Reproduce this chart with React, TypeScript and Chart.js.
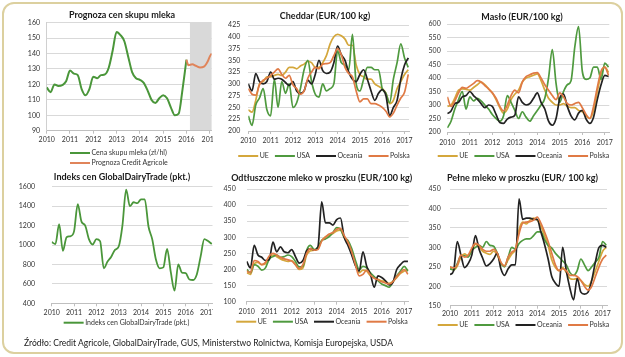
import React, { useEffect, useRef } from "react";
import { Chart, registerables } from "chart.js";

Chart.register(...registerables);
Chart.defaults.font.family = "Lato, 'Open Sans', sans-serif";

// ---------- DATA ----------
const dates = [
  "2010-01", "2010-03", "2010-05", "2010-07", "2010-09", "2010-11",
  "2011-01", "2011-03", "2011-05", "2011-07", "2011-09", "2011-11",
  "2012-01", "2012-03", "2012-05", "2012-07", "2012-09", "2012-11",
  "2013-01", "2013-03", "2013-05", "2013-07", "2013-09", "2013-11",
  "2014-01", "2014-03", "2014-05", "2014-07", "2014-09", "2014-11",
  "2015-01", "2015-03", "2015-05", "2015-07", "2015-09", "2015-11",
  "2016-01", "2016-03", "2016-05", "2016-07", "2016-09", "2016-11",
  "2017-01", "2017-03",
];
const yearTicks = [2010, 2011, 2012, 2013, 2014, 2015, 2016, 2017];

// Panel 1: milk purchase price (zł/hl) and forecast
const milkPrice = [
  118, 115, 120, 119, 119.5, 122,
  129, 127, 126, 117, 113, 117,
  125, 124, 126, 126.5, 131, 142,
  154, 152, 148, 138, 128, 124,
  123, 121, 116, 110, 108, 111,
  113, 111, 105, 100, 101, 117,
  136,
];
const forecastDates = ["2016-01", "2016-02", "2016-04", "2016-06", "2016-08", "2016-10", "2016-12", "2017-01", "2017-02"];
const forecastPrice = [136, 132.5, 133, 132, 131, 131.5, 135, 138, 140];
const forecastBand = [2016.15, 2017.1];

// Panel 2: Cheddar (EUR/100 kg)
const cheddarUE = [
  245, 240, 265, 300, 305, 315, 315, 318, 320, 318, 325, 335,
  335, 332, 338, 342, 348, 345, 335, 335, 345, 360, 385, 400,
  405, 402, 395, 382, 382, 340, 320, 315, 310, 310, 300, 295,
  290, 280, 258, 265, 290, 305, 320, 330,
];
const cheddarUSA = [
  232, 212, 255, 270, 290, 245, 232, 310, 250, 305, 280, 300,
  250, 260, 290, 330, 350, 305, 278, 272, 300, 285, 290, 300,
  370, 345, 340, 330, 405, 300, 285, 310, 335, 335, 330, 330,
  290, 280, 260, 310, 345, 385, 355, 335,
];
const cheddarOceania = [
  300, 285, 322, 305, 300, 305, 325, 310, 312, 310, 303, 297,
  305, 285, 280, 285, 308, 300, 320, 350, 328, 322, 325, 345,
  380, 362, 350, 325, 310, 305, 320, 330, 310, 285, 265, 280,
  288, 275, 232, 250, 265, 310, 340, 355,
];
const cheddarPolska = [
  290, 278, 276, 298, 308, 312, 318, 325, 332, 320, 312, 318,
  298, 290, 278, 285, 312, 325, 335, 332, 342, 343, 345, 360,
  375, 362, 335, 322, 315, 285, 262, 268, 268, 258, 258, 255,
  250, 242, 230, 238, 255, 270, 282, 320,
];

// Panel 3: Butter (EUR/100 kg)
const butterUE = [
  295, 300, 325, 355, 360, 358, 355, 365, 375, 385, 375, 360,
  345, 320, 290, 270, 285, 320, 340, 355, 385, 400, 405, 410,
  415, 390, 355, 325, 310, 300, 300, 305, 295, 290, 290, 280,
  275, 260, 250, 280, 350, 410, 440, 420,
];
const butterUSA = [
  215, 240, 285, 320, 350, 285, 330, 315, 325, 315, 300, 285,
  265, 250, 240, 260, 335, 310, 280, 250, 275, 255, 240, 260,
  280, 300, 325, 400, 505, 380, 310, 350, 375, 390, 515, 590,
  425, 395, 400, 440, 440, 395, 455, 440,
];
const butterOceania = [
  268, 278, 305, 310, 330, 335, 350, 335, 322, 305, 290, 300,
  295, 265, 235, 232, 248, 255, 262, 330, 310, 300, 305, 325,
  345, 310, 285, 240, 225, 250, 325, 340, 295, 260, 245, 270,
  280, 248, 232, 255, 320, 375, 410, 405,
];
const butterPolska = [
  330, 295, 315, 345, 365, 362, 370, 380, 390, 385, 372, 360,
  345, 325, 295, 278, 300, 335, 355, 345, 385, 405, 412, 418,
  420, 400, 375, 355, 335, 320, 345, 330, 305, 300, 305, 310,
  290, 265, 250, 295, 365, 425, 440, 410,
];

// Panel 4: GlobalDairyTrade price index (pkt.)
const gdtIndex = [
  1030, 1010, 1215, 940, 1080, 1090, 1140, 1420, 1240, 1200, 1060, 1005,
  1060, 1040, 760, 830, 880, 950, 985, 1200, 1570, 1400, 1440, 1430,
  1470, 1470, 1190, 1060, 850, 760, 770, 960, 720, 530, 800, 715,
  710, 645, 640, 700, 880, 1060, 1040, 1010,
];

// Panel 5: Skimmed milk powder (EUR/100 kg)
const smpUE = [
  190, 185, 218, 222, 215, 218, 235, 245, 240, 233, 228, 225,
  228, 215, 200, 205, 245, 258, 260, 265, 290, 302, 306, 312,
  320, 322, 300, 280, 250, 215, 190, 198, 195, 180, 175, 170,
  165, 163, 157, 163, 175, 188, 195, 200,
];
const smpUSA = [
  200, 190, 215, 210, 198, 205, 232, 240, 245, 238, 240, 245,
  240, 225, 208, 210, 260, 275, 262, 270, 290, 295, 302, 315,
  330, 325, 300, 290, 265, 228, 200, 210, 205, 190, 178, 165,
  155, 150, 145, 162, 180, 195, 210, 195,
];
const smpOceania = [
  225, 205, 275, 245, 238, 228, 230, 285, 255, 270, 255, 252,
  262, 240, 220, 228, 258, 265, 260, 270, 410, 345, 345, 338,
  355, 360, 300, 275, 245, 212, 195, 255, 210, 185, 145, 180,
  175, 165, 152, 160, 200, 215, 225, 225,
];
const smpPolska = [
  195, 190, 228, 225, 215, 222, 242, 250, 245, 238, 233, 230,
  226, 215, 203, 215, 250, 265, 260, 262, 288, 300, 310, 315,
  325, 328, 305, 285, 255, 215, 180, 185, 198, 183, 173, 168,
  162, 158, 155, 162, 178, 190, 200, 185,
];

// Panel 6: Whole milk powder (EUR/100 kg)
const wmpUE = [
  250, 242, 252, 275, 283, 278, 290, 308, 300, 290, 285, 282,
  290, 280, 258, 253, 268, 283, 295, 345, 365, 360, 370, 375,
  370, 355, 330, 305, 268, 248, 240, 248, 235, 220, 218, 220,
  215, 205, 200, 215, 240, 265, 290, 300,
];
const wmpUSA = [
  245, 242, 258, 278, 278, 275, 292, 300, 305, 300, 315, 305,
  303, 285, 260, 250, 275, 300, 295, 310, 318, 322, 322, 330,
  340, 340, 320, 305, 298, 285, 275, 265, 255, 235, 228, 240,
  270, 255, 240, 250, 262, 275, 315, 305,
];
const wmpOceania = [
  230, 240, 315, 280, 248, 258, 280, 330, 295, 272, 252, 258,
  270, 285, 245, 228, 245, 255, 255, 425, 372, 375, 375, 372,
  372, 340, 308, 270, 225, 208, 200, 300, 240, 195, 165, 220,
  185, 180, 185, 215, 262, 300, 305, 300,
];
const wmpPolska = [
  250, 247, 255, 280, 275, 280, 298, 310, 305, 295, 290, 290,
  295, 285, 262, 252, 275, 288, 295, 335, 362, 365, 366, 370,
  378, 362, 340, 315, 285, 255, 240, 245, 240, 228, 228, 225,
  215, 200, 190, 200, 225, 250, 270, 280,
];

const sourceText = "Źródło: Credit Agricole, GlobalDairyTrade, GUS, Ministerstwo Rolnictwa, Komisja Europejska, USDA";

// ---------- STYLE ----------
const C_UE = "#d4a73c";
const C_USA = "#4f9a3f";
const C_OCE = "#222222";
const C_PL = "#e07a45";
const C_GREEN = "#4a963a";
const C_ORANGE = "#e0845a";

const toYear = (d: string) => {
  const [y, m] = d.split("-").map(Number);
  return y + (m - 1) / 12;
};
const pts = (ds: string[], vs: number[]) => vs.map((v, i) => ({ x: toYear(ds[i]), y: v }));

type SeriesSpec = { label: string; color: string; data: { x: number; y: number }[]; width: number; order: number };
type PanelSpec = {
  rect: [number, number, number, number];
  area: [number, number, number, number]; // L, R, T, B (canvas-local)
  yMin: number; yMax: number; yStep: number; xMax: number;
  yPad: number; xPad: number; yBorder: boolean;
  title: string; titlePos: [number, number];
  legendMode: "row" | "column"; legendPos: [number, number];
  band?: number[];
  series: SeriesSpec[];
};

const four = (ue: number[], usa: number[], oce: number[], pl: number[]): SeriesSpec[] => [
  { label: "UE", color: C_UE, data: pts(dates, ue), width: 1.7, order: 3 },
  { label: "USA", color: C_USA, data: pts(dates, usa), width: 1.7, order: 2 },
  { label: "Oceania", color: C_OCE, data: pts(dates, oce), width: 1.7, order: 1 },
  { label: "Polska", color: C_PL, data: pts(dates, pl), width: 1.7, order: 0 },
];

const panels: PanelSpec[] = [
  {
    rect: [5, 5, 208, 165], area: [41.7, 206.6, 17.7, 125.7],
    yMin: 90, yMax: 160, yStep: 10, xMax: 2017.08, yPad: 6.7, xPad: 1.8, yBorder: true,
    title: "Prognoza cen skupu mleka", titlePos: [117, 9.7],
    legendMode: "column", legendPos: [65, 148], band: forecastBand,
    series: [
      { label: "Cena skupu mleka (zł/hl)", color: C_GREEN, data: pts(dates, milkPrice), width: 2, order: 1 },
      { label: "Prognoza Credit Agricole", color: C_ORANGE, data: pts(forecastDates, forecastPrice), width: 2, order: 0 },
    ],
  },
  {
    rect: [213, 5, 202, 165], area: [35.3, 196, 20, 126],
    yMin: 200, yMax: 425, yStep: 25, xMax: 2017.2, yPad: 8, xPad: 2.5, yBorder: false,
    title: "Cheddar (EUR/100 kg)", titlePos: [112, 11],
    legendMode: "row", legendPos: [111, 151],
    series: four(cheddarUE, cheddarUSA, cheddarOceania, cheddarPolska),
  },
  {
    rect: [415, 5, 205, 165], area: [32.3, 194.3, 19, 127],
    yMin: 200, yMax: 600, yStep: 50, xMax: 2017.2, yPad: 6.6, xPad: 4, yBorder: false,
    title: "Masło (EUR/100 kg)", titlePos: [107, 11.7],
    legendMode: "row", legendPos: [108.5, 151],
    series: four(butterUE, butterUSA, butterOceania, butterPolska),
  },
  {
    rect: [5, 168, 208, 165], area: [46.7, 207.5, 18.7, 135.3],
    yMin: 400, yMax: 1600, yStep: 200, xMax: 2017.2, yPad: 16.7, xPad: 1.9, yBorder: false,
    title: "Indeks cen GlobalDairyTrade (pkt.)", titlePos: [117, 8.7],
    legendMode: "row", legendPos: [121.5, 154.7],
    series: [{ label: "Indeks cen GlobalDairyTrade (pkt.)", color: C_GREEN, data: pts(dates, gdtIndex), width: 1.8, order: 0 }],
  },
  {
    rect: [213, 168, 202, 165], area: [33.7, 195.7, 21, 133.7],
    yMin: 100, yMax: 450, yStep: 50, xMax: 2017.2, yPad: 11, xPad: 2.5, yBorder: false,
    title: "Odtłuszczone mleko w proszku (EUR/100 kg)", titlePos: [108.7, 9.7],
    legendMode: "row", legendPos: [109, 153.7],
    series: four(smpUE, smpUSA, smpOceania, smpPolska),
  },
  {
    rect: [415, 168, 205, 165], area: [35, 192, 21, 137.7],
    yMin: 150, yMax: 450, yStep: 50, xMax: 2017.2, yPad: 9.3, xPad: 1.1, yBorder: false,
    title: "Pełne mleko w proszku (EUR/ 100 kg)", titlePos: [107.5, 9.7],
    legendMode: "row", legendPos: [108.5, 157],
    series: four(wmpUE, wmpUSA, wmpOceania, wmpPolska),
  },
];

const X_H = 14;
const TICK_FONT = { size: 7, family: "Lato" };
const TICK_COLOR = "#333333";

const decorPlugin = {
  id: "panelDecor",
  beforeDraw(chart: any, _args: any, opts: any) {
    const band = opts.band;
    if (!band) return;
    const { ctx, chartArea: a, scales } = chart;
    const x0 = Math.max(scales.x.getPixelForValue(band[0]), a.left);
    const x1 = Math.min(scales.x.getPixelForValue(band[1]), a.right);
    ctx.save();
    ctx.fillStyle = "#d9d9d9";
    ctx.fillRect(x0, a.top, x1 - x0, a.bottom - a.top);
    ctx.restore();
  },
  afterDraw(chart: any, _args: any, opts: any) {
    const { ctx } = chart;
    ctx.save();
    // title
    ctx.font = "bold 9px Lato";
    ctx.fillStyle = "#1a1a1a";
    ctx.textAlign = "center";
    ctx.textBaseline = "middle";
    ctx.fillText(opts.title, opts.titlePos[0], opts.titlePos[1]);
    // legend
    ctx.font = "7px Lato";
    ctx.textAlign = "left";
    const lineLen = 20, gap = 1.5, itemGap = 6;
    const items = chart.data.datasets.map((d: any) => ({ text: d.label, color: d.borderColor, w: 0 }));
    items.forEach((it: any) => (it.w = lineLen + gap + ctx.measureText(it.text).width));
    const drawItem = (it: any, x: number, y: number) => {
      ctx.strokeStyle = it.color;
      ctx.lineWidth = 2;
      ctx.beginPath();
      ctx.moveTo(x, y);
      ctx.lineTo(x + lineLen, y);
      ctx.stroke();
      ctx.fillStyle = "#333333";
      ctx.fillText(it.text, x + lineLen + gap, y);
    };
    if (opts.legendMode === "column") {
      items.forEach((it: any, i: number) => drawItem(it, opts.legendPos[0], opts.legendPos[1] + i * 10));
    } else {
      const total = items.reduce((s: number, it: any) => s + it.w, 0) + itemGap * (items.length - 1);
      let x = opts.legendPos[0] - total / 2;
      items.forEach((it: any) => {
        drawItem(it, x, opts.legendPos[1]);
        x += it.w + itemGap;
      });
    }
    ctx.restore();
  },
};

function Panel({ spec }: { spec: PanelSpec }) {
  const ref = useRef<HTMLCanvasElement>(null);
  useEffect(() => {
    if (!ref.current) return;
    const [, , w, h] = spec.rect;
    const [L, R, T, B] = spec.area;
    const chart = new Chart(ref.current, {
      type: "line",
      data: {
        datasets: spec.series.map((s) => ({
          label: s.label,
          data: s.data,
          borderColor: s.color,
          backgroundColor: s.color,
          borderWidth: s.width,
          pointRadius: 0,
          pointHoverRadius: 0,
          cubicInterpolationMode: "monotone",
          fill: false,
          order: s.order,
        })),
      },
      options: {
        responsive: false,
        animation: false,
        events: [],
        layout: { padding: { left: 0, right: w - R, top: T, bottom: h - B - X_H } },
        plugins: {
          legend: { display: false },
          title: { display: false },
          tooltip: { enabled: false },
          panelDecor: {
            band: spec.band,
            title: spec.title,
            titlePos: spec.titlePos,
            legendMode: spec.legendMode,
            legendPos: spec.legendPos,
          },
        } as any,
        scales: {
          x: {
            type: "linear",
            min: 2010,
            max: spec.xMax,
            afterBuildTicks: (s: any) => {
              s.ticks = yearTicks.map((v) => ({ value: v }));
            },
            afterFit: (s: any) => {
              s.height = X_H;
              s.paddingLeft = 0;
              s.paddingRight = 0;
            },
            ticks: {
              autoSkip: false,
              maxRotation: 0,
              minRotation: 0,
              padding: spec.xPad,
              color: TICK_COLOR,
              font: TICK_FONT,
              callback: (v: any) => String(v),
            },
            grid: { drawOnChartArea: false, drawTicks: true, tickLength: 3, color: "#bfbfbf" },
            border: { display: true, color: "#bfbfbf" },
          },
          y: {
            type: "linear",
            min: spec.yMin,
            max: spec.yMax,
            afterFit: (s: any) => {
              s.width = L;
              s.paddingTop = 0;
              s.paddingBottom = 0;
            },
            ticks: {
              stepSize: spec.yStep,
              autoSkip: false,
              padding: spec.yPad,
              color: TICK_COLOR,
              font: TICK_FONT,
              callback: (v: any) => String(v),
            },
            grid: { color: "#d9d9d9", drawTicks: false },
            border: { display: spec.yBorder, color: "#d0d0d0" },
          },
        },
      },
      plugins: [decorPlugin],
    } as any);
    return () => chart.destroy();
  }, [spec]);
  const [l, t, w, h] = spec.rect;
  return (
    <canvas
      ref={ref}
      width={w}
      height={h}
      style={{ position: "absolute", left: l, top: t, width: w, height: h }}
    />
  );
}

export default function App() {
  return (
    <div
      style={{
        position: "absolute",
        left: 0,
        top: 0,
        width: 625,
        height: 357,
        background: "#ffffff",
        overflow: "hidden",
      }}
    >
      <div
        style={{
          position: "absolute",
          left: 2,
          top: 2,
          width: 617,
          height: 348,
          border: "2px solid #dcd09f",
          borderRadius: 12,
        }}
      />
      {panels.map((p, i) => (
        <Panel key={i} spec={p} />
      ))}
      <div
        style={{
          position: "absolute",
          left: 24,
          top: 338,
          fontFamily: "Lato, sans-serif",
          fontSize: 8.5,
          color: "#1a1a1a",
          whiteSpace: "nowrap",
          lineHeight: "10px",
        }}
      >
        {sourceText}
      </div>
    </div>
  );
}
